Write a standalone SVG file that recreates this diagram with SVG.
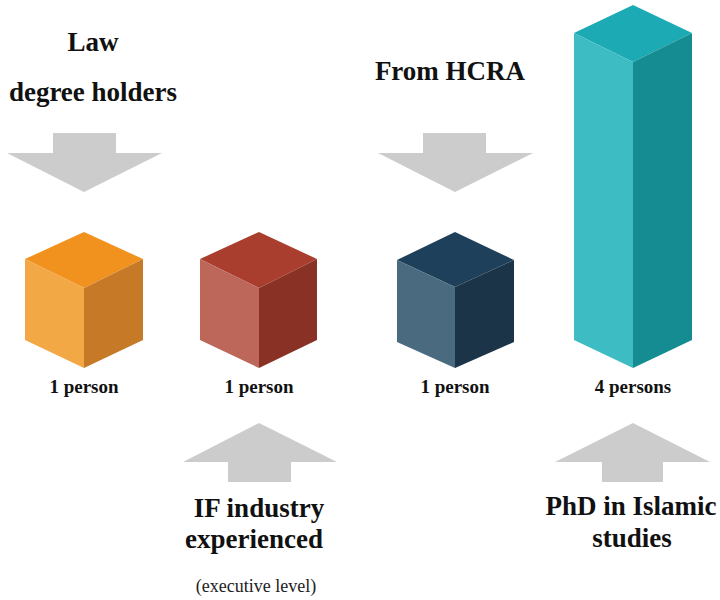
<svg xmlns="http://www.w3.org/2000/svg" width="720" height="600" viewBox="0 0 720 600">
  <style>
    .head { font-family: "Liberation Serif", "Times New Roman", serif; font-weight: bold; font-size: 27px; fill: #111; text-anchor: middle; }
    .count { font-family: "Liberation Serif", "Times New Roman", serif; font-weight: bold; font-size: 19px; fill: #111; text-anchor: middle; }
    .note { font-family: "Liberation Serif", "Times New Roman", serif; font-size: 18px; fill: #222; text-anchor: middle; }
    .arrow { fill: #cccccc; }
  </style>
  <rect width="720" height="600" fill="#ffffff"/>

  <!-- arrows -->
  <g id="connectors">
    <polygon class="arrow" points="53,133 116,133 116,153 162,153 84,192 7,153 53,153"/>
    <polygon class="arrow" points="423,133 486,133 486,153 533,153 455,192 378,153 423,153"/>
    <polygon class="arrow" points="259,423 337,462 291,462 291,482 228,482 228,462 183,462"/>
    <polygon class="arrow" points="633,423 710,462 663,462 663,482 602,482 602,462 555,462"/>
  </g>

  <!-- law degree holders -->
  <g id="law">
    <text class="head" x="93" y="51">Law</text>
    <text class="head" x="93" y="101">degree holders</text>
    <polygon points="84,232 143,259 84,288 25,259" fill="#f1921f"/>
    <polygon points="25,259 84,288 84,368 25,340" fill="#f2a845"/>
    <polygon points="84,288 143,259 143,340 84,368" fill="#c67a28"/>
    <text class="count" x="84" y="393">1 person</text>
  </g>

  <!-- industry experienced -->
  <g id="industry">
    <polygon points="259,232 317,259 259,288 200,259" fill="#a93d2e"/>
    <polygon points="200,259 259,288 259,368 200,340" fill="#bd665a"/>
    <polygon points="259,288 317,259 317,340 259,368" fill="#8a3126"/>
    <text class="count" x="259" y="393">1 person</text>
    <text class="head" x="259" y="517">IF industry</text>
    <text class="head" x="254" y="548">experienced</text>
    <text class="note" x="256" y="592">(executive level)</text>
  </g>

  <!-- from HCRA -->
  <g id="hcra">
    <text class="head" x="450" y="80">From HCRA</text>
    <polygon points="455,232 514,260 455,287 397,260" fill="#1f405b"/>
    <polygon points="397,260 455,287 455,368 397,342" fill="#4a6a80"/>
    <polygon points="455,287 514,260 514,342 455,368" fill="#1b3448"/>
    <text class="count" x="455" y="393">1 person</text>
  </g>

  <!-- PhD in Islamic studies -->
  <g id="phd">
    <polygon points="633,5 692,33 633,62 574,33" fill="#1caab5"/>
    <polygon points="574,33 633,62 633,368 574,340" fill="#3dbcc4"/>
    <polygon points="633,62 692,33 692,340 633,368" fill="#158c91"/>
    <text class="count" x="633" y="393">4 persons</text>
    <text class="head" x="631" y="515">PhD in Islamic</text>
    <text class="head" x="632" y="547">studies</text>
  </g>
</svg>
